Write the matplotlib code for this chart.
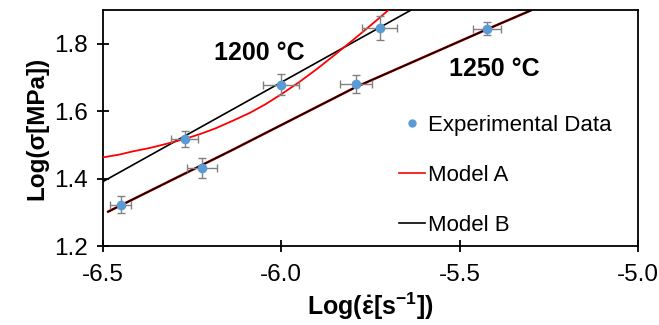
import matplotlib
matplotlib.use("Agg")
import matplotlib.pyplot as plt

plt.rcParams['font.family'] = ['Liberation Sans', 'DejaVu Sans']
plt.rcParams['mathtext.fontset'] = 'custom'
plt.rcParams['mathtext.rm'] = 'Liberation Sans:bold'
plt.rcParams['mathtext.it'] = 'Liberation Sans:bold'
plt.rcParams['mathtext.bf'] = 'Liberation Sans:bold'

# Experimental data
x_1200 = [-6.27, -6.00, -5.724]
y_1200 = [1.518, 1.679, 1.846]
xerr_1200 = [0.038, 0.050, 0.049]
yerr_1200 = [0.023, 0.032, 0.035]

x_1250 = [-6.45, -6.223, -5.789, -5.423]
y_1250 = [1.322, 1.431, 1.680, 1.845]
xerr_1250 = [0.029, 0.042, 0.045, 0.040]
yerr_1250 = [0.025, 0.030, 0.027, 0.020]

# Model A (red) curves
modelA_1200_x = [-6.5, -6.455, -6.415, -6.368, -6.322, -6.269, -6.225, -6.182, -6.135,
                 -6.088, -6.045, -6.0, -5.95, -5.90, -5.85, -5.80, -5.75, -5.72, -5.696]
modelA_1200_y = [1.463, 1.471, 1.481, 1.491, 1.503, 1.518, 1.533, 1.550, 1.572,
                 1.595, 1.620, 1.650, 1.686, 1.725, 1.767, 1.810, 1.854, 1.881, 1.903]
modelA_1250_x = [-6.485, -6.135, -5.79, -5.423, -5.30]
modelA_1250_y = [1.302, 1.486, 1.672, 1.843, 1.899]

# Model B (black) curves
modelB_1200_x = [-6.5, -5.636]
modelB_1200_y = [1.391, 1.900]
modelB_1250_x = [-6.485, -6.135, -5.79, -5.423, -5.30]
modelB_1250_y = [1.302, 1.486, 1.672, 1.843, 1.899]

xticks = [-6.5, -6.0, -5.5, -5.0]
xticklabels = ["-6.5", "-6.0", "-5.5", "-5.0"]
yticks = [1.2, 1.4, 1.6, 1.8]
yticklabels = ["1.2", "1.4", "1.6", "1.8"]

fig = plt.figure(figsize=(6.59, 3.25), dpi=100)
ax = fig.add_axes([0.156, 0.243, 0.812, 0.726])

ax.plot(modelA_1250_x, modelA_1250_y, color='#ff0000', lw=1.8, zorder=2)
ax.plot(modelB_1250_x, modelB_1250_y, color='#000000', lw=1.2, zorder=3)
ax.plot(modelA_1200_x, modelA_1200_y, color='#ff0000', lw=1.3, zorder=3)
ax.plot(modelB_1200_x, modelB_1200_y, color='#000000', lw=1.2, zorder=2)

ax.errorbar(x_1200, y_1200, xerr=xerr_1200, yerr=yerr_1200, fmt='none',
            ecolor='#808080', elinewidth=1.0, capsize=3, capthick=1.0, zorder=4)
ax.errorbar(x_1250, y_1250, xerr=xerr_1250, yerr=yerr_1250, fmt='none',
            ecolor='#808080', elinewidth=1.0, capsize=3, capthick=1.0, zorder=4)
ax.plot(x_1200 + x_1250, y_1200 + y_1250, 'o', color='#5b9bd5', ms=6, zorder=5)

# legend handles
hE, = ax.plot([], [], 'o', color='#5b9bd5', ms=5)
hA, = ax.plot([], [], color='#ff0000', lw=1.2)
hB, = ax.plot([], [], color='#000000', lw=1.2)
leg = ax.legend([hE, hA, hB], ["Experimental Data", "Model A", "Model B"],
                loc='upper left', bbox_to_anchor=(0.553, 0.555), frameon=False,
                fontsize=16, labelspacing=1.3, handlelength=1.2, handletextpad=0.12,
                borderaxespad=0, borderpad=0)

ax.text(-6.06, 1.774, "1200 °C", fontsize=18, fontweight='bold', ha='center', va='center')
ax.text(-5.402, 1.724, "1250 °C", fontsize=18, fontweight='bold', ha='center', va='center')

ax.set_xlim(-6.5, -5.0)
ax.set_ylim(1.2, 1.9)
ax.set_xticks(xticks)
ax.set_xticklabels(xticklabels)
ax.set_yticks(yticks)
ax.set_yticklabels(yticklabels)
ax.tick_params(direction='inout', length=8, width=1.3, labelsize=17.5)
ax.tick_params(axis='y', pad=7)
ax.tick_params(axis='x', pad=9)
for s in ax.spines.values():
    s.set_linewidth(1.3)

ax.set_ylabel("Log(σ[MPa])", fontsize=17.5, fontweight='bold', labelpad=4)
ax.set_xlabel(r"Log($\dot{\varepsilon}$[s$^{-1}$])", fontsize=18, fontweight='bold', labelpad=3)

fig.savefig("out.png", dpi=100)
